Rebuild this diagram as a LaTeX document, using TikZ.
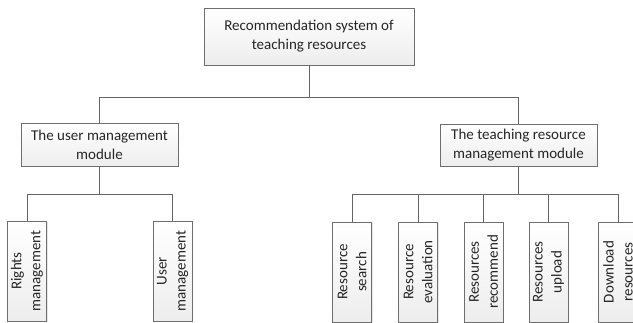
\documentclass[tikz,border=0pt]{standalone}
\usepackage{fontspec}
\setmainfont{Carlito}
\usepackage{tikz}
\usetikzlibrary{shadows}
\definecolor{boxLine}{RGB}{110,110,110}
\definecolor{connColor}{RGB}{100,100,100}
\tikzset{
    modbox/.style={
        draw=boxLine,
        top color=white,
        bottom color=gray!14,
        drop shadow={opacity=0.2, shadow xshift=1pt, shadow yshift=-1pt},
        align=center,
        inner sep=0pt,
        font=\fontsize{15}{19}\selectfont,
        text=black!85
    },
    leafbox/.style={
        modbox,
        rotate=90,
        minimum width=100pt,
        minimum height=39pt
    },
    conn/.style={
        draw=connColor,
        line width=0.9pt
    }
}

\begin{document}
\begin{tikzpicture}[x=1pt, y=-1pt]
        \useasboundingbox (0,0) rectangle (633,322);
        \node[modbox, minimum width=210pt, minimum height=57pt] (sys) at (309,36.5) {Recommendation system of\\teaching resources};
        \node[modbox, minimum width=157pt, minimum height=43pt] (um) at (99.5,144.5) {The user management\\module};
        \node[modbox, minimum width=157pt, minimum height=42pt] (tm) at (518.5,145) {The teaching resource\\management module};

        \node[leafbox] (rights) at (27,271) {Rights\\management};
        \node[leafbox] (user) at (172.5,271) {User\\management};

        \node[leafbox] (search) at (352,272) {Resource\\search};
        \node[leafbox] (eval) at (418,272) {Resource\\evaluation};
        \node[leafbox] (recom) at (483.5,272) {Resources\\recommend};
        \node[leafbox] (upload) at (548.5,272) {Resources\\upload};
        \node[leafbox] (down) at (618,272) {Download\\resources};

        \draw[conn] (sys.south) -- ++(0,32) -| (um.north);
        \draw[conn] (sys.south) -- ++(0,32) -| (tm.north);
        \draw[conn] (um.south) -- ++(0,28) -| (rights.east);
        \draw[conn] (um.south) -- ++(0,28) -| (user.east);
        \draw[conn] (tm.south) -- ++(0,28) -| (search.east);
        \draw[conn] (tm.south) -- ++(0,28) -| (eval.east);
        \draw[conn] (tm.south) -- ++(0,28) -| (recom.east);
        \draw[conn] (tm.south) -- ++(0,28) -| (upload.east);
        \draw[conn] (tm.south) -- ++(0,28) -| (down.east);
    \end{tikzpicture}
\end{document}
